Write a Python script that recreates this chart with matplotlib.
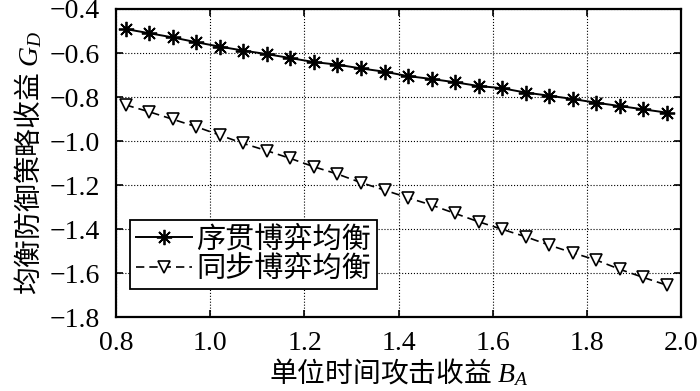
import matplotlib
matplotlib.use('Agg')
import matplotlib.pyplot as plt
import numpy as np

plt.rcParams['font.family'] = ['Liberation Serif', 'Noto Sans CJK SC']
plt.rcParams['mathtext.fontset'] = 'custom'
plt.rcParams['mathtext.rm'] = 'Noto Sans CJK SC'
plt.rcParams['mathtext.it'] = 'Liberation Serif:italic'
plt.rcParams['axes.unicode_minus'] = True

# 单位时间攻击收益 B_A
ba = [0.82, 0.87, 0.92, 0.97, 1.02, 1.07, 1.12, 1.17, 1.22, 1.27, 1.32, 1.37,
      1.42, 1.47, 1.52, 1.57, 1.62, 1.67, 1.72, 1.77, 1.82, 1.87, 1.92, 1.97]

# 序贯博弈均衡
gd_seq = [-0.491, -0.510, -0.529, -0.551, -0.571, -0.589, -0.605, -0.623,
          -0.641, -0.653, -0.670, -0.685, -0.705, -0.718, -0.733, -0.750,
          -0.760, -0.780, -0.794, -0.809, -0.826, -0.841, -0.856, -0.871]

# 同步博弈均衡
gd_sim = [-0.836, -0.867, -0.901, -0.935, -0.973, -1.011, -1.044, -1.079,
          -1.117, -1.150, -1.189, -1.223, -1.258, -1.291, -1.329, -1.367,
          -1.401, -1.435, -1.473, -1.508, -1.541, -1.583, -1.620, -1.655]

xticks = [0.8, 1.0, 1.2, 1.4, 1.6, 1.8, 2.0]
yticks = [-1.8, -1.6, -1.4, -1.2, -1.0, -0.8, -0.6, -0.4]

fig, ax = plt.subplots(figsize=(7, 3.91), dpi=100)

ax.plot(ba, gd_seq, '-', color='black', lw=1.4, marker=(8, 2, 0),
        markersize=11, markeredgewidth=1.3, label='序贯博弈均衡')
ax.plot(ba, gd_sim, '--', color='black', lw=1.2, marker='v', markersize=8,
        markerfacecolor='white', markeredgecolor='black', markeredgewidth=1.2,
        dashes=(5, 3), label='同步博弈均衡')

ax.set_xlim(0.8, 2.0)
ax.set_ylim(-1.8, -0.4)
ax.set_xticks(xticks)
ax.set_yticks(yticks)
ax.set_xticklabels([f'{v:.1f}' for v in xticks])
ax.set_yticklabels([f'{v:.1f}'.replace('-', '\u2212') for v in yticks])
ax.grid(True, linestyle=':', color='black', lw=0.8)
ax.tick_params(direction='in', top=True, right=True, labelsize=20, length=5,
               width=1.2, pad=12)
ax.tick_params(axis='x', pad=10)
for s in ax.spines.values():
    s.set_linewidth(1.6)

ax.set_xlabel(r'$\mathrm{单位时间攻击收益}\ B_A$', fontsize=20, labelpad=0)
ax.set_ylabel(r'$\mathrm{均衡防御策略收益}\ G_D$', fontsize=20, labelpad=4)

leg = ax.legend(loc='lower left', bbox_to_anchor=(0.025, 0.091), fontsize=21,
                frameon=True, fancybox=False, edgecolor='black',
                handlelength=1.9, borderpad=0.2, labelspacing=0.1,
                handletextpad=0.15, borderaxespad=0)
leg.get_frame().set_linewidth(1.3)
leg.get_frame().set_alpha(1)

fig.subplots_adjust(left=0.166, right=0.973, top=0.977, bottom=0.189)
fig.savefig('out.png', dpi=100)
